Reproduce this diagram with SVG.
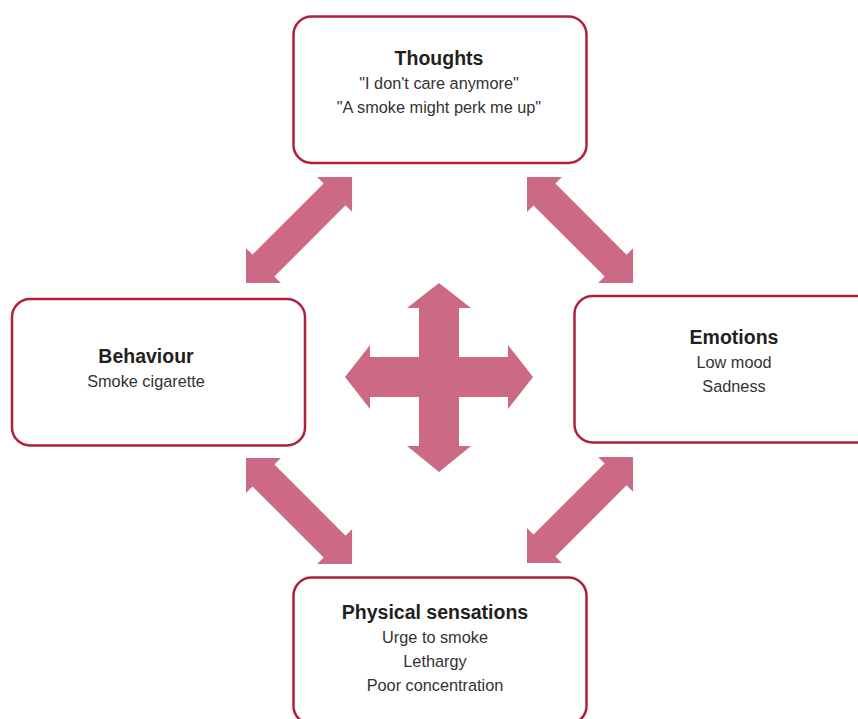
<svg xmlns="http://www.w3.org/2000/svg" width="858" height="719" viewBox="0 0 858 719">
<defs>
<style>
.box{fill:#ffffff;stroke:#b11f3c;stroke-width:2.5}
.arr{fill:#cc6a86}
.t{font-family:"Liberation Sans",Arial,sans-serif;font-weight:bold;font-size:19.5px;fill:#231f20;text-anchor:middle}
.b{font-family:"Liberation Sans",Arial,sans-serif;font-size:16.3px;fill:#333333;text-anchor:middle}
</style>
<path id="dbl" d="M0,0 L24.7,-24.7 L24.7,-15.5 L125.3,-15.5 L125.3,-24.7 L150,0 L125.3,24.7 L125.3,15.5 L24.7,15.5 L24.7,24.7 Z"/>
</defs>
<rect width="858" height="719" fill="#ffffff"/>
<g id="connectors">
<use href="#dbl" class="arr" transform="translate(246,283) rotate(-45)"/>
<use href="#dbl" class="arr" transform="translate(527,177) rotate(45)"/>
<use href="#dbl" class="arr" transform="translate(246,458) rotate(45)"/>
<use href="#dbl" class="arr" transform="translate(527,563) rotate(-45)"/>
<polygon class="arr" points="439,283 471,308 459,308 459,357 508,357 508,345 533,377 508,409 508,397 459,397 459,446 471,446 439,472 407,446 419,446 419,397 370,397 370,409 345,377 370,345 370,357 419,357 419,308 407,308"/>
</g>
<g id="thoughts">
<rect class="box" x="293.5" y="16.5" width="293" height="146.5" rx="18"/>
<text class="t" x="439" y="65">Thoughts</text>
<text class="b" x="439" y="89">"I don't care anymore"</text>
<text class="b" x="439" y="113">"A smoke might perk me up"</text>
</g>
<g id="behaviour">
<rect class="box" x="12" y="299" width="293" height="146.5" rx="18"/>
<text class="t" x="146" y="363">Behaviour</text>
<text class="b" x="146" y="387">Smoke cigarette</text>
</g>
<g id="emotions">
<rect class="box" x="574.5" y="296" width="320" height="146.5" rx="18"/>
<text class="t" x="734" y="344">Emotions</text>
<text class="b" x="734" y="368">Low mood</text>
<text class="b" x="734" y="392">Sadness</text>
</g>
<g id="physical">
<rect class="box" x="293.5" y="577.5" width="293" height="146.5" rx="18"/>
<text class="t" x="435" y="619">Physical sensations</text>
<text class="b" x="435" y="643">Urge to smoke</text>
<text class="b" x="435" y="667">Lethargy</text>
<text class="b" x="435" y="691">Poor concentration</text>
</g>
</svg>
